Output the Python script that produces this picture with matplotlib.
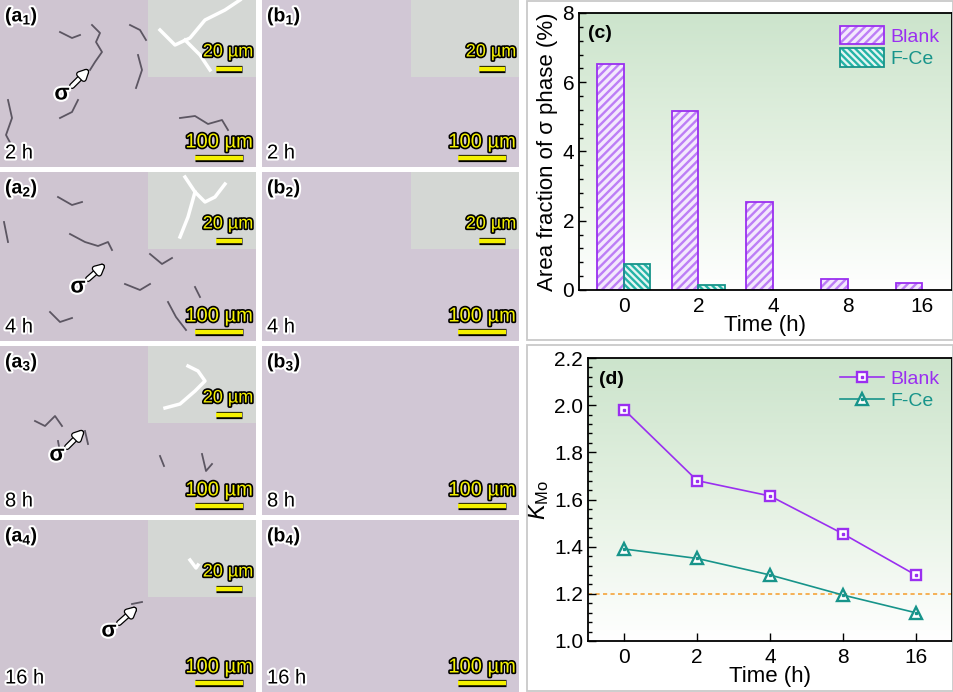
import matplotlib
matplotlib.use('Agg')
import matplotlib.pyplot as plt
import numpy as np
from matplotlib import patheffects as pe
from matplotlib.ticker import AutoMinorLocator, MultipleLocator
from matplotlib.colors import LinearSegmentedColormap
from matplotlib.patches import Rectangle, Patch
from matplotlib.legend_handler import HandlerTuple

plt.rcParams['font.family'] = ['Liberation Sans', 'DejaVu Sans']
plt.rcParams['mathtext.fontset'] = 'custom'
plt.rcParams['mathtext.rm'] = 'Liberation Sans'
plt.rcParams['mathtext.it'] = 'Liberation Sans:italic'
plt.rcParams['mathtext.bf'] = 'Liberation Sans:bold'
plt.rcParams['hatch.linewidth'] = 1.7

# ---------------- data ----------------
times = ['0', '2', '4', '8', '16']
area_blank = [6.54, 5.18, 2.53, 0.31, 0.20]
area_fce = [0.74, 0.13, 0.0, 0.0, 0.0]
k_blank = [1.98, 1.68, 1.615, 1.455, 1.28]
k_fce = [1.39, 1.35, 1.28, 1.195, 1.12]
k_ref = 1.2
row_times = ['2 h', '4 h', '8 h', '16 h']
col_letters = ['a', 'b']
series_names = ['Blank', 'F-Ce']

PURPLE = '#9a2ff0'
PURPLE_L = '#bd7ef6'
TEAL = '#17948a'
TEAL_L = '#24b3a6'

W, H = 954, 692
fig = plt.figure(figsize=(9.54, 6.92), dpi=100)


def px_axes(x0, y0, x1, y1):
    return fig.add_axes([x0 / W, 1 - y1 / H, (x1 - x0) / W, (y1 - y0) / H])


# ---------------- micrograph panels ----------------
rows = [(0, 167), (172, 341), (346, 515), (520, 692)]
cols = [(0, 256), (262, 519)]
insets = {('a', 0), ('a', 1), ('a', 2), ('a', 3), ('b', 0), ('b', 1)}
arrows = {0: ((72, 86), (89, 69), (62, 94)),
          1: ((88, 107), (105, 92), (78, 115)),
          2: ((67, 101), (84, 84), (57, 109)),
          3: ((119, 103), (137, 87), (109, 111))}

# sketched sigma-phase networks (decorative, panel pixel coords)
nets = {
    0: [[(92, 25), (100, 33), (96, 42), (102, 52), (95, 62), (90, 70)],
        [(60, 32), (72, 38), (80, 35)],
        [(8, 100), (12, 118), (6, 135), (14, 150)],
        [(180, 118), (195, 116), (208, 124), (222, 120), (228, 130)],
        [(138, 55), (142, 70), (136, 88)],
        [(60, 118), (72, 112), (78, 100)],
        [(130, 25), (140, 30), (146, 40)]],
    1: [[(70, 62), (85, 70), (98, 74), (108, 70), (112, 78)],
        [(125, 112), (140, 118), (150, 112)],
        [(168, 130), (176, 145), (186, 158)],
        [(58, 25), (72, 33), (82, 30)],
        [(150, 82), (162, 92), (172, 86)],
        [(4, 50), (8, 70)],
        [(50, 140), (60, 150), (72, 146)],
        [(195, 115), (200, 125)]],
    2: [[(35, 75), (45, 80), (55, 70), (62, 80)],
        [(58, 95), (60, 106)],
        [(85, 85), (88, 98)],
        [(202, 108), (206, 125), (212, 118)],
        [(160, 110), (164, 120)]],
    3: [[(132, 84), (142, 82)]],
}
inset_feats = {
    0: [[(160, 30), (175, 45), (190, 38), (205, 20), (225, 10), (240, 0)],
        [(185, 40), (200, 55), (210, 70)]],
    1: [[(185, 5), (195, 20), (205, 30), (215, 25), (225, 12)],
        [(195, 20), (188, 45), (180, 65)]],
    2: [[(165, 62), (180, 58), (195, 45), (205, 35), (198, 25), (188, 20)]],
    3: [[(190, 40), (196, 48), (198, 45)]],
}

for ci, (cx0, cx1) in enumerate(cols):
    L = col_letters[ci]
    for ri, (ry0, ry1) in enumerate(rows):
        ax = px_axes(cx0, ry0, cx1, ry1)
        w = cx1 - cx0
        h = ry1 - ry0
        ax.set_xlim(0, w)
        ax.set_ylim(h, 0)
        ax.axis('off')
        ax.add_patch(Rectangle((0, 0), w, h, facecolor='#cfc5d1' if L == 'a' else '#d1c7d5',
                               edgecolor='none', zorder=0))
        if L == 'a':
            for seg in nets[ri]:
                xs, ys = zip(*seg)
                ax.plot(xs, ys, color='#5c5662', lw=1.3, zorder=1)
        if (L, ri) in insets:
            ax.add_patch(Rectangle((w - 108, 0), 108, 77, facecolor='#d4d7d4',
                                   edgecolor='none', zorder=2))
            if L == 'a':
                for seg in inset_feats[ri]:
                    xs, ys = zip(*seg)
                    ax.plot(xs, ys, color='white', lw=2.5, zorder=3, clip_on=True)
            ax.text(w - 28, 52, '20 µm', ha='center', va='center', fontsize=13,
                    color='#f4f000', zorder=4,
                    path_effects=[pe.withStroke(linewidth=2.4, foreground='black')])
            ax.plot([w - 40, w - 14], [69, 69], color='#f4f000', lw=3.2,
                    solid_capstyle='butt', zorder=4,
                    path_effects=[pe.Stroke(linewidth=5.2, foreground='black'), pe.Normal()])
        ax.text(w - 37, h - 25, '100 µm', ha='center', va='center', fontsize=14.5,
                color='#f4f000', zorder=4,
                path_effects=[pe.withStroke(linewidth=2.4, foreground='black')])
        ax.plot([w - 61, w - 13], [h - 9, h - 9], color='#f4f000', lw=3.2,
                solid_capstyle='butt', zorder=4,
                path_effects=[pe.Stroke(linewidth=5.2, foreground='black'), pe.Normal()])
        ax.text(5, 17, r'$\mathbf{(%s_{%d})}$' % (L, ri + 1), ha='left', va='center',
                fontsize=14, color='black', zorder=4,
                path_effects=[pe.withStroke(linewidth=3, foreground='white')])
        ax.text(5, h - 14, row_times[ri], ha='left', va='center', fontsize=14.5,
                color='black', zorder=4,
                path_effects=[pe.withStroke(linewidth=3, foreground='white')])
        if L == 'a':
            tail, head, sig = arrows[ri]
            ann = ax.annotate('', xy=head, xytext=tail, zorder=5,
                              arrowprops=dict(arrowstyle='-|>', color='white', lw=2.6,
                                              mutation_scale=12, shrinkA=0, shrinkB=0))
            ann.arrow_patch.set_path_effects([pe.Stroke(linewidth=4.4, foreground='black'),
                                              pe.Normal()])
            ax.text(sig[0], sig[1], 'σ', ha='center', va='center', fontsize=16,
                    fontweight='bold', color='black', zorder=5,
                    path_effects=[pe.withStroke(linewidth=3, foreground='white')])

# ---------------- panel frames ----------------
for (y0, y1) in [(1, 340), (345, 691)]:
    fig.add_artist(Rectangle((527 / W, 1 - y1 / H), (952.5 - 527) / W, (y1 - y0) / H,
                             transform=fig.transFigure, fill=False,
                             edgecolor='#c9c9c9', lw=1.3))

green_cmap = LinearSegmentedColormap.from_list('g', ['#cce4cc', '#e4f1e2', '#ffffff'])


def add_gradient(ax):
    grad = np.linspace(0, 1, 256).reshape(-1, 1)
    ax.imshow(grad, extent=[0, 1, 0, 1], transform=ax.transAxes, cmap=green_cmap,
              aspect='auto', zorder=0, origin='upper')


# ---------------- (c) bar chart ----------------
axc = px_axes(579, 13, 952, 290)
add_gradient(axc)
x = np.arange(len(times))
bw = 0.356
B_FACE = '#f3e8fd'
F_FACE = '#e4f6f3'
axc.bar(x - bw / 2, area_blank, bw, facecolor=B_FACE, edgecolor=PURPLE_L,
        hatch='////', lw=0, zorder=1)
axc.bar(x - bw / 2, area_blank, bw, facecolor='none', edgecolor=PURPLE, lw=1.3, zorder=1.1)
fce_arr = np.array(area_fce)
fce_mask = fce_arr > 0
axc.bar(x[fce_mask] + bw / 2, fce_arr[fce_mask], bw, facecolor=F_FACE,
        edgecolor=TEAL_L, hatch='\\\\\\\\\\', lw=0, zorder=1)
axc.bar(x[fce_mask] + bw / 2, fce_arr[fce_mask], bw, facecolor='none',
        edgecolor=TEAL, lw=1.3, zorder=1.1)
axc.set_xlim(-0.6, 4.4)
axc.set_ylim(0, 8)
axc.set_xticks(x)
axc.set_xticklabels(times)
axc.yaxis.set_major_locator(MultipleLocator(2))
axc.yaxis.set_minor_locator(AutoMinorLocator(5))
axc.tick_params(axis='y', which='major', direction='in', length=5, width=1, labelsize=15)
axc.tick_params(axis='y', which='minor', direction='in', length=3, width=1)
axc.tick_params(axis='x', length=0, labelsize=15, pad=5)
for s in axc.spines.values():
    s.set_linewidth(1.3)
axc.set_xlabel('Time (h)', fontsize=16, labelpad=-1)
axc.set_ylabel('Area fraction of σ phase (%)', fontsize=16, labelpad=3)
axc.text(0.025, 0.955, '(c)', transform=axc.transAxes, fontsize=14, fontweight='bold',
         ha='left', va='top')
hb = (Patch(facecolor=B_FACE, edgecolor=PURPLE_L, hatch='////', lw=0),
      Patch(facecolor='none', edgecolor=PURPLE, lw=1.3))
hf = (Patch(facecolor=F_FACE, edgecolor=TEAL_L, hatch='\\\\\\\\\\', lw=0),
      Patch(facecolor='none', edgecolor=TEAL, lw=1.3))
legc = axc.legend([hb, hf], series_names, loc='upper right', frameon=False, fontsize=14,
                  handlelength=2.3, handleheight=1.1, labelspacing=0.15, handletextpad=0.3,
                  borderaxespad=0.25, handler_map={tuple: HandlerTuple(ndivide=1, pad=0)})
for t, c in zip(legc.get_texts(), [PURPLE, TEAL]):
    t.set_color(c)

# ---------------- (d) line chart ----------------
axd = px_axes(588, 358, 952, 641)
add_gradient(axd)
axd.axhline(k_ref, color='#f5a43a', lw=1.2, ls=(0, (2.5, 2)), zorder=1)
lb, = axd.plot(x, k_blank, color=PURPLE, lw=1.2, marker='s', ms=6.5, mfc='white',
               mec=PURPLE, mew=1.7, zorder=3)
db, = axd.plot(x, k_blank, ls='none', marker='s', ms=1.6, color=PURPLE, zorder=4)
lf, = axd.plot(x, k_fce, color=TEAL, lw=1.2, marker='^', ms=8.5, mfc='white',
               mec=TEAL, mew=1.7, zorder=3)
df, = axd.plot(x, k_fce, ls='none', marker='s', ms=1.4, color=TEAL, zorder=4)
axd.set_xlim(-0.5, 4.5)
axd.set_ylim(1.0, 2.2)
axd.set_xticks(x)
axd.set_xticklabels(times)
axd.yaxis.set_major_locator(MultipleLocator(0.2))
axd.yaxis.set_minor_locator(AutoMinorLocator(5))
axd.tick_params(axis='both', which='major', direction='in', length=6, width=1, labelsize=15)
axd.tick_params(axis='y', which='minor', direction='in', length=3, width=1)
axd.tick_params(axis='x', pad=5)
for s in axd.spines.values():
    s.set_linewidth(1.3)
axd.set_xlabel('Time (h)', fontsize=16, labelpad=-1)
axd.set_ylabel(r'$K_{\mathrm{Mo}}$', fontsize=17, labelpad=2)
axd.text(0.03, 0.955, '(d)', transform=axd.transAxes, fontsize=14, fontweight='bold',
         ha='left', va='top')
legd = axd.legend([(lb, db), (lf, df)], series_names, loc='upper right', frameon=False,
                  fontsize=14, handlelength=2.3, labelspacing=0.2, handletextpad=0.3,
                  borderaxespad=0.25, handler_map={tuple: HandlerTuple(ndivide=1, pad=0)})
for t, c in zip(legd.get_texts(), [PURPLE, TEAL]):
    t.set_color(c)

fig.savefig('out.png', dpi=100)
